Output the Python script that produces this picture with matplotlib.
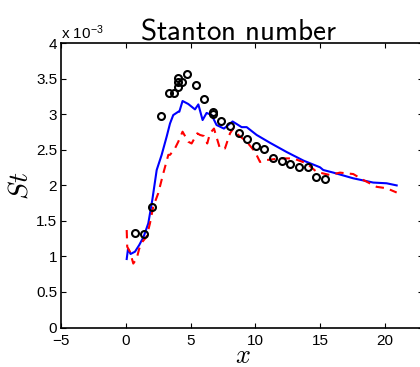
import matplotlib
matplotlib.use("Agg")
import matplotlib.pyplot as plt

plt.rcParams["font.family"] = ["Liberation Sans", "DejaVu Sans"]
plt.rcParams["mathtext.fontset"] = "cm"

# measured Stanton number (values in units of 1e-3)
exp_x = [0.69, 1.36, 2.03, 2.70, 3.34, 3.70, 4.01, 4.04, 4.04, 4.35, 4.71,
         5.38, 6.02, 6.70, 6.70, 7.36, 8.04, 8.71, 9.35, 10.02, 10.69,
         11.36, 12.03, 12.70, 13.37, 14.04, 14.71, 15.38]
exp_st = [1.33, 1.31, 1.69, 2.98, 3.30, 3.30, 3.39, 3.46, 3.51, 3.455, 3.57,
          3.41, 3.21, 3.04, 3.00, 2.91, 2.84, 2.74, 2.66, 2.56, 2.51,
          2.38, 2.35, 2.305, 2.26, 2.255, 2.12, 2.09]

# simulation 1 (blue solid)
sim1_x = [0.05, 0.15, 0.35, 0.69, 1.02, 1.36, 1.72, 2.03, 2.37, 2.75, 3.14,
          3.40, 3.65, 4.04, 4.12, 4.37, 4.81, 5.33, 5.59, 5.92, 6.23, 6.62,
          7.00, 7.57, 8.24, 8.94, 9.33, 10.1, 11.13, 12.42, 13.71, 15.0,
          15.25, 16.03, 17.57, 19.12, 20.15, 20.93]
sim1_st = [0.964, 1.105, 1.035, 1.067, 1.161, 1.278, 1.466, 1.795, 2.217,
           2.428, 2.686, 2.872, 2.99, 3.037, 3.037, 3.188, 3.146, 3.07, 3.14,
           2.92, 3.02, 2.99, 2.85, 2.80, 2.90, 2.82, 2.82, 2.71, 2.60, 2.47,
           2.35, 2.255, 2.217, 2.18, 2.10, 2.04, 2.03, 2.00]

# simulation 2 (red dashed)
sim2_x = [0.05, 0.09, 0.30, 0.56, 0.82, 1.02, 1.28, 1.59, 1.85, 2.10, 2.49,
          2.88, 3.27, 3.40, 3.78, 4.04, 4.37, 4.81, 5.07, 5.51, 5.72, 6.02,
          6.28, 6.49, 6.80, 7.26, 7.65, 8.04, 8.29, 8.68, 9.33, 9.97, 10.36,
          10.87, 11.9, 12.93, 13.97, 14.74, 15.77, 16.54, 17.57, 18.35,
          19.38, 20.15, 20.93]
sim2_st = [1.372, 1.137, 1.067, 0.90, 0.97, 1.11, 1.21, 1.278, 1.466, 1.70,
           1.89, 2.17, 2.43, 2.43, 2.52, 2.615, 2.756, 2.615, 2.59, 2.733,
           2.71, 2.695, 2.59, 2.733, 2.80, 2.52, 2.52, 2.733, 2.80, 2.71,
           2.615, 2.475, 2.33, 2.357, 2.38, 2.38, 2.31, 2.19, 2.146, 2.18,
           2.16, 2.076, 1.98, 1.96, 1.90]

x_ticks = [-5, 0, 5, 10, 15, 20]
y_ticks = [0, 0.5, 1, 1.5, 2, 2.5, 3, 3.5, 4]
y_tick_labels = ["0", "0.5", "1", "1.5", "2", "2.5", "3", "3.5", "4"]

fig = plt.figure(figsize=(4.2, 3.67), dpi=100)
ax = fig.add_axes([0.1462, 0.1076, 0.862, 0.7744])

ax.plot(sim1_x, sim1_st, color="#0000ff", linewidth=1.5)
ax.plot(sim2_x, sim2_st, color="#ff0000", linewidth=1.5, linestyle=(0, (4, 3)))
ax.plot(exp_x, exp_st, linestyle="none", marker="o", markersize=5,
        markerfacecolor="none", markeredgecolor="black", markeredgewidth=1.5)

ax.set_xlim(-5, 23)
ax.set_ylim(0, 4)
ax.set_xticks(x_ticks)
ax.set_yticks(y_ticks)
ax.set_yticklabels(y_tick_labels)
ax.tick_params(direction="in", length=3.5, width=0.8, labelsize=11,
               top=True, right=True, pad=3)
ax.tick_params(axis="x", pad=5)
for spine in ax.spines.values():
    spine.set_linewidth(1.2)

ax.text(0.0, 1.005, r"x 10$^{\mathregular{-3}}$", transform=ax.transAxes,
        fontsize=11, ha="left", va="bottom")
ax.set_title(r"$\mathsf{Stanton\ number}$", fontsize=21, pad=3, x=0.49)
ax.set_xlabel(r"$x$", fontsize=19, labelpad=-3)
ax.set_ylabel(r"$St$", fontsize=20, labelpad=2)

fig.savefig("out.png", dpi=100)
